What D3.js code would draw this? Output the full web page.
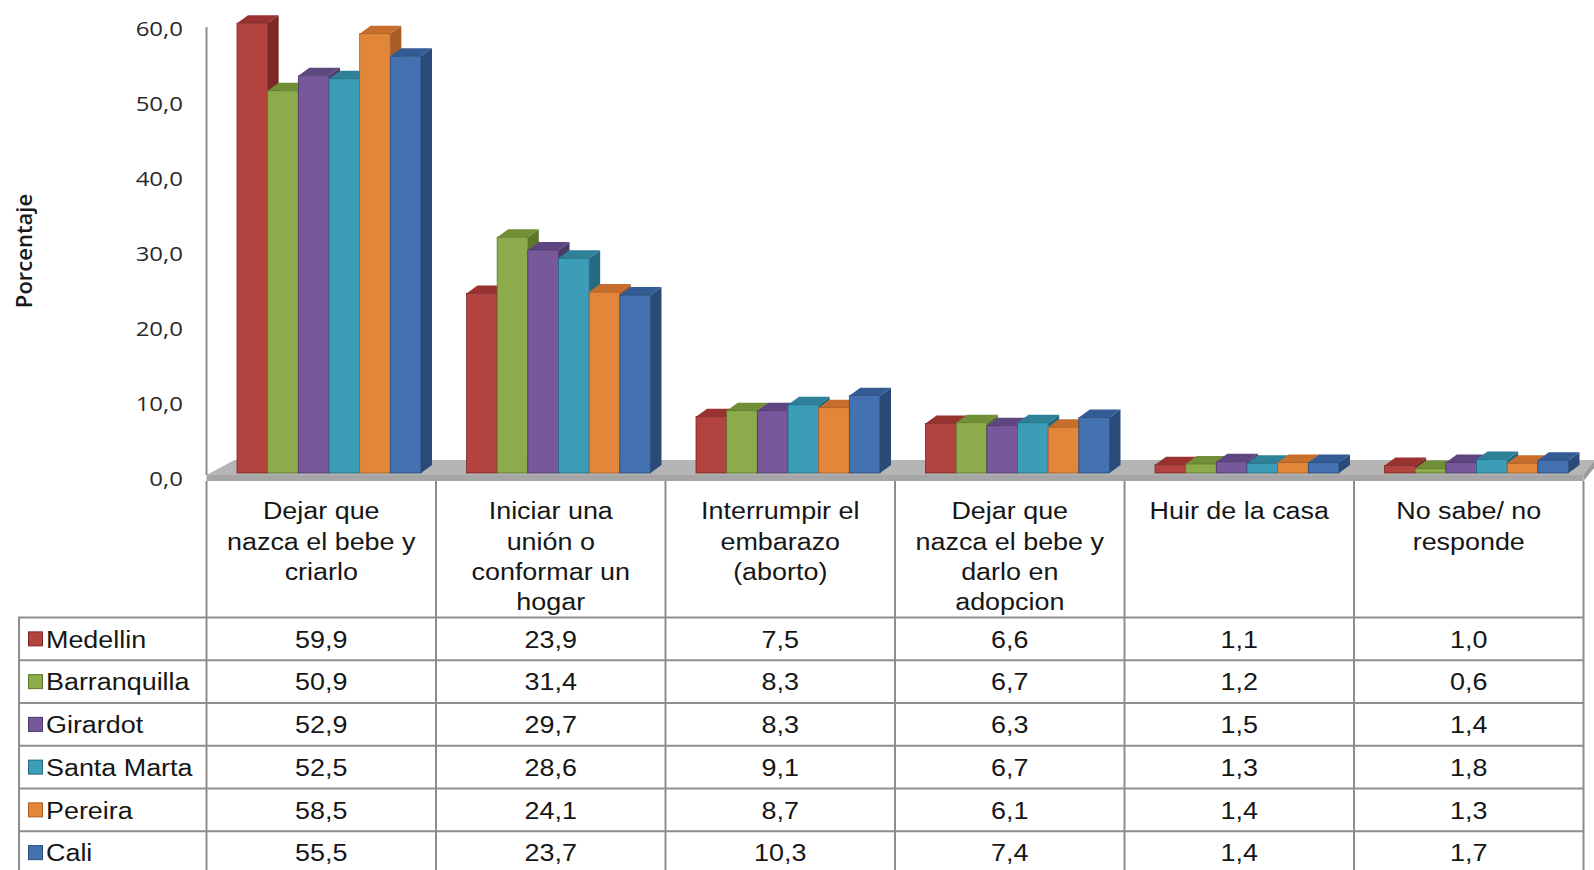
<!DOCTYPE html>
<html>
<head>
<meta charset="utf-8">
<script src="https://cdn.jsdelivr.net/npm/d3@7"></script>
<style>
  html, body { margin: 0; padding: 0; background: #fff; }
  svg { display: block; }
</style>
</head>
<body>
<svg id="chart" width="1594" height="870"></svg>
<script>
// ---------------- DATA ----------------
const categories = [
  ["Dejar que", "nazca el bebe y", "criarlo"],
  ["Iniciar una", "unión o", "conformar un", "hogar"],
  ["Interrumpir el", "embarazo", "(aborto)"],
  ["Dejar que", "nazca el bebe y", "darlo en", "adopcion"],
  ["Huir de la casa"],
  ["No sabe/ no", "responde"]
];
const seriesNames = ["Medellin", "Barranquilla", "Girardot", "Santa Marta", "Pereira", "Cali"];
const medellin     = [59.9, 23.9, 7.5, 6.6, 1.1, 1.0];
const barranquilla = [50.9, 31.4, 8.3, 6.7, 1.2, 0.6];
const girardot     = [52.9, 29.7, 8.3, 6.3, 1.5, 1.4];
const santaMarta   = [52.5, 28.6, 9.1, 6.7, 1.3, 1.8];
const pereira      = [58.5, 24.1, 8.7, 6.1, 1.4, 1.3];
const cali         = [55.5, 23.7, 10.3, 7.4, 1.4, 1.7];
const tickValues   = [0, 10, 20, 30, 40, 50, 60];
const axisTitle    = "Porcentaje";

const seriesValues = [medellin, barranquilla, girardot, santaMarta, pereira, cali];
const frontColors = ["#b3433f", "#8eab4c", "#77599b", "#3c9db7", "#e2873a", "#4472b0"];
const topColors   = ["#973230", "#718f37", "#5e4681", "#2e8199", "#c76e2d", "#345c94"];
const sideColors  = ["#7a2927", "#5d772d", "#4b3768", "#256a80", "#a95c25", "#2a4a78"];

// ---------------- LAYOUT ----------------
const svg = d3.select("#chart");
const SX = 1.17;               // horizontal text stretch of the original image
const tableLeft = 18;
const colLeft = 206.5, colRight = 1583.5;
const floorFrontY = 475, floorBackY = 460, floorBottomY = 481;
const barBase = 473;
const dx = 11, dy = -8;        // bar depth offset
const gridColor = "#8d8d8d";

const x = d3.scaleBand().domain(d3.range(categories.length)).range([colLeft, colRight]).padding(0);
const xInner = d3.scaleBand().domain(d3.range(seriesNames.length)).range([30.5, 214.5]).padding(0);
const y = d3.scaleLinear().domain([0, 60]).range([barBase, 22.4]);
const yLabel = d3.scaleLinear().domain([0, 60]).range([478, 27.5]);
const fmt = v => d3.format(".1f")(v).replace(".", ",");

// ---------------- FLOOR ----------------
svg.append("polygon")
  .attr("points", [[colLeft, floorFrontY], [colLeft + 28, floorBackY], [1605, floorBackY], [colRight, floorFrontY]].join(" "))
  .attr("fill", "#b5b5b5");
svg.append("rect")
  .attr("x", colLeft).attr("y", floorFrontY)
  .attr("width", colRight - colLeft).attr("height", floorBottomY - floorFrontY)
  .attr("fill", "#a6a6a6");
svg.append("polygon")
  .attr("points", [[colRight, floorFrontY], [1594, floorBackY + 2], [1594, floorBackY + 8], [colRight, floorBottomY]].join(" "))
  .attr("fill", "#9a9a9a");

// ---------------- Y AXIS ----------------
svg.append("line")
  .attr("x1", colLeft).attr("x2", colLeft)
  .attr("y1", 27).attr("y2", floorFrontY)
  .attr("stroke", gridColor).attr("stroke-width", 2);

svg.append("g").selectAll("text").data(tickValues).join("text")
  .attr("transform", d => `translate(183,${yLabel(d)}) scale(1.2,1)`)
  .attr("text-anchor", "end")
  .attr("dominant-baseline", "central")
  .attr("font-family", "'Open Sans', sans-serif")
  .attr("font-size", 20)
  .attr("fill", "#2a2a2a")
  .text(d => fmt(d));

svg.append("text")
  .attr("transform", "translate(23,251) rotate(-90)")
  .attr("text-anchor", "middle")
  .attr("dominant-baseline", "central")
  .attr("font-family", "'Open Sans', sans-serif")
  .attr("font-weight", 600)
  .attr("font-size", 22)
  .attr("fill", "#1a1a1a")
  .text(axisTitle);

// ---------------- BARS ----------------
const bars = svg.append("g");
categories.forEach((cat, ci) => {
  seriesValues.forEach((vals, si) => {
    const v = vals[ci];
    const x0 = x(ci) + xInner(si);
    const w = xInner.bandwidth();
    const yt = y(v);
    const g = bars.append("g");
    g.append("polygon")
      .attr("points", [[x0 + w, yt], [x0 + w + dx, yt + dy], [x0 + w + dx, barBase + dy], [x0 + w, barBase]].join(" "))
      .attr("fill", sideColors[si]);
    g.append("polygon")
      .attr("points", [[x0, yt], [x0 + dx, yt + dy], [x0 + w + dx, yt + dy], [x0 + w, yt]].join(" "))
      .attr("fill", topColors[si]);
    g.append("rect")
      .attr("x", x0).attr("y", yt)
      .attr("width", w).attr("height", barBase - yt)
      .attr("fill", frontColors[si])
      .attr("stroke", sideColors[si]).attr("stroke-width", 0.8);
  });
});

// ---------------- DATA TABLE ----------------
const rowTop = 617.5, rowH = 42.75;
const table = svg.append("g");

categories.forEach((lines, ci) => {
  const cx = x(ci) + x.bandwidth() / 2;
  lines.forEach((ln, li) => {
    table.append("text")
      .attr("transform", `translate(${cx},${511 + li * 30.3}) scale(${SX},1)`)
      .attr("text-anchor", "middle")
      .attr("dominant-baseline", "central")
      .attr("font-family", "'Liberation Sans', Arial, sans-serif")
      .attr("font-size", 23)
      .attr("fill", "#161616")
      .text(ln);
  });
});

const hLines = d3.range(seriesNames.length + 1).map(i => rowTop + i * rowH);
table.selectAll("line.h").data(hLines).join("line")
  .attr("x1", tableLeft).attr("x2", colRight)
  .attr("y1", d => d).attr("y2", d => d)
  .attr("stroke", gridColor).attr("stroke-width", 2);
const vLines = d3.range(categories.length + 1).map(i => colLeft + i * x.bandwidth());
table.selectAll("line.v").data(vLines).join("line")
  .attr("x1", d => d).attr("x2", d => d)
  .attr("y1", floorBottomY).attr("y2", 870)
  .attr("stroke", gridColor).attr("stroke-width", 2);
table.append("line")
  .attr("x1", tableLeft + 1).attr("x2", tableLeft + 1)
  .attr("y1", rowTop).attr("y2", 870)
  .attr("stroke", gridColor).attr("stroke-width", 2);

seriesNames.forEach((name, si) => {
  const cy = rowTop + si * rowH + rowH / 2 + 0.5;
  table.append("rect")
    .attr("x", 28.5).attr("y", cy - 7.5)
    .attr("width", 14).attr("height", 14)
    .attr("fill", frontColors[si])
    .attr("stroke", sideColors[si]).attr("stroke-width", 1);
  table.append("text")
    .attr("transform", `translate(46,${cy}) scale(${SX},1)`)
    .attr("dominant-baseline", "central")
    .attr("font-family", "'Liberation Sans', Arial, sans-serif")
    .attr("font-size", 23)
    .attr("fill", "#161616")
    .text(name);
  seriesValues[si].forEach((v, ci) => {
    table.append("text")
      .attr("transform", `translate(${x(ci) + x.bandwidth() / 2},${cy}) scale(${SX},1)`)
      .attr("text-anchor", "middle")
      .attr("dominant-baseline", "central")
      .attr("font-family", "'Liberation Sans', Arial, sans-serif")
      .attr("font-size", 23)
      .attr("fill", "#161616")
      .text(fmt(v));
  });
});
</script>
</body>
</html>
